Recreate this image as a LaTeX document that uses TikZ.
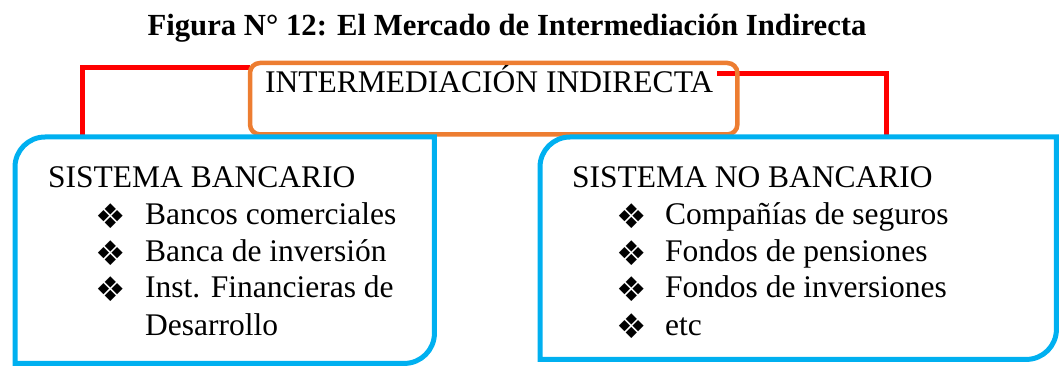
\documentclass[tikz,border=0pt]{standalone}
\usepackage{fontspec}
\setmainfont{Liberation Serif}
\newfontfamily\symfont{DejaVu Sans}
\usetikzlibrary{calc}
\definecolor{lnred}{RGB}{255,0,0}
\definecolor{boxorange}{RGB}{237,125,49}
\definecolor{boxblue}{RGB}{0,176,240}
\tikzset{
  txt/.style={inner sep=0pt, anchor=base west, font=\fontsize{31.5pt}{36pt}\selectfont},
  titletxt/.style={inner sep=0pt, anchor=base, font=\fontsize{30.7pt}{36pt}\selectfont\bfseries},
  bul/.style={inner sep=0pt, anchor=center, font=\fontsize{34pt}{40pt}\symfont},
  area/.style={inner sep=0pt},
  orangeline/.style={draw=boxorange, line width=4.5pt, rounded corners=10pt},
  blueline/.style={draw=boxblue, line width=5pt},
  conn/.style={draw=lnred, line width=5pt}
}
\begin{document}
\begin{tikzpicture}[x=1pt,y=-1pt]
\useasboundingbox (0,0) rectangle (1061,366);
% title
\node[titletxt] (title) at (507,36) {Figura N° 12: El Mercado de Intermediación Indirecta};
% areas
\node[area, minimum width=487pt, minimum height=71pt, anchor=north west] (top) at (250,63) {};
\node[area, minimum width=419pt, minimum height=226pt, anchor=north west] (left) at (15,137) {};
\node[area, minimum width=516pt, minimum height=222pt, anchor=north west] (right) at (540,137) {};
% connectors
\coordinate (lcorner) at ($(left.north west)+(67,0)$);
\coordinate (rcorner) at ($(right.north west)+(346,0)$);
\draw[conn] ($(top.north west)+(0,5)$) -| (lcorner);
\draw[conn] ($(top.north east)+(-20,11)$) -| (rcorner);
% top box outline
\draw[orangeline] (top.north west) rectangle (top.south east);
\node[txt] (toptext) at (265,93) {INTERMEDIACIÓN INDIRECTA};
% blue outlines
\draw[blueline] (left.south west) [rounded corners=30pt] -- (left.north west) [sharp corners] -- (left.north east) [rounded corners=30pt] -- (left.south east) [sharp corners] -- (left.south west) -- cycle;
\draw[blueline] (right.south west) [rounded corners=30pt] -- (right.north west) [sharp corners] -- (right.north east) [rounded corners=30pt] -- (right.south east) [sharp corners] -- (right.south west) -- cycle;
% left texts
\node[txt] (lh) at (48,188) {SISTEMA BANCARIO};
\node[bul] (lb1) at (111,216) {❖};
\node[bul] (lb2) at (111,253) {❖};
\node[bul] (lb3) at (111,289) {❖};
\node[txt] (l1) at (145,225) {Bancos comerciales};
\node[txt] (l2) at (145,262) {Banca de inversión};
\node[txt] (l3) at (145,298) {Inst. Financieras de};
\node[txt] (l4) at (145,335) {Desarrollo};
% right texts
\node[txt] (rh) at (572,188) {SISTEMA NO BANCARIO};
\node[bul] (rb1) at (632,216) {❖};
\node[bul] (rb2) at (632,253) {❖};
\node[bul] (rb3) at (632,289) {❖};
\node[bul] (rb4) at (632,326) {❖};
\node[txt] (r1) at (665,225) {Compañías de seguros};
\node[txt] (r2) at (665,262) {Fondos de pensiones};
\node[txt] (r3) at (665,298) {Fondos de inversiones};
\node[txt] (r4) at (665,335) {etc};
\end{tikzpicture}
\end{document}
